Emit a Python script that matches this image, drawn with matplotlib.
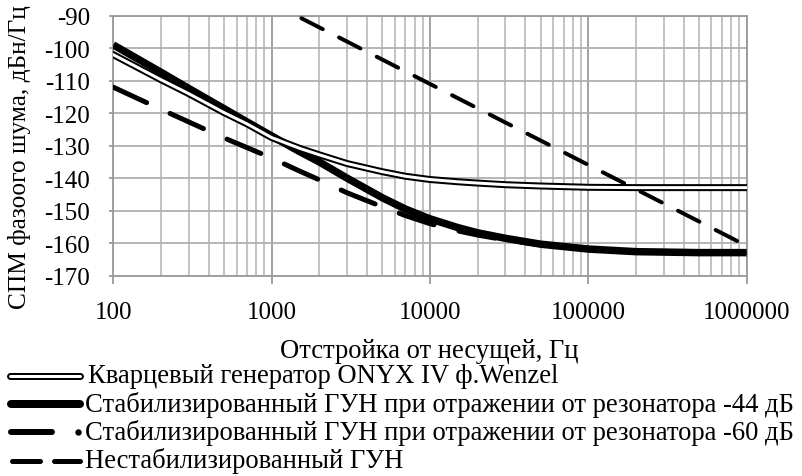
import matplotlib
matplotlib.use("Agg")
import matplotlib.pyplot as plt
from matplotlib.lines import Line2D
import numpy as np

plt.rcParams['font.family'] = ['Liberation Serif', 'DejaVu Serif']
plt.rcParams['lines.scale_dashes'] = False
plt.rcParams['axes.unicode_minus'] = False

# ---- data ----
freq = [100, 200, 300, 500, 700, 1000, 1500, 2000, 3000, 5000, 7000, 10000, 15000,
        20000, 30000, 50000, 100000, 200000, 500000, 1000000]
crystal = [-102.0, -109.7, -114.0, -119.8, -123.3, -127.5, -130.8, -132.8, -135.5, -138.0,
           -139.4, -140.4, -141.1, -141.5, -142.0, -142.4, -142.8, -142.9, -142.9, -142.9]
vco_44 = [-99.0, -107.4, -112.4, -118.6, -122.7, -127.0, -131.8, -135.0, -140.0, -146.0,
          -149.5, -152.5, -155.2, -156.8, -158.5, -160.3, -161.8, -162.6, -162.9, -162.9]
vco_60 = [-112.0, -118.8, -122.7, -127.6, -130.6, -133.8, -137.8, -140.5, -144.5, -148.8,
          -151.5, -154.0, -156.2, -157.5, -159.0, -160.5, -161.8, -162.6, -162.9, -162.9]
freq_unstab = [100, 1000, 10000, 100000, 1000000]
unstab = [-61.2, -86.1, -111.0, -135.9, -160.8]

yticks = [-90, -100, -110, -120, -130, -140, -150, -160, -170]
xticks = [100, 1000, 10000, 100000, 1000000]
xtick_labels = ['100', '1000', '10000', '100000', '1000000']

labels = ['Кварцевый генератор ONYX IV ф.Wenzel',
          'Стабилизированный ГУН при отражении от резонатора -44 дБ',
          'Стабилизированный ГУН при отражении от резонатора -60 дБ',
          'Нестабилизированный ГУН']
xlabel = 'Отстройка от несущей, Гц'
ylabel = 'СПМ фазоого шума, дБн/Гц'

W, H = 802, 477
fig = plt.figure(figsize=(W / 100, H / 100), dpi=100)
L, R, T, B = 113.3, 746.6, 16.7, 276.7
ax = fig.add_axes([L / W, 1 - B / H, (R - L) / W, (B - T) / H])

FS = 18
FS_TXT = 19.2
px = 0.72  # points per pixel

# curves
ax.plot(freq, vco_60, color='black', lw=5 * px, dashes=(36.7 * px, 25.8 * px),
        dash_capstyle='round', solid_capstyle='round', zorder=3)
ax.plot(freq, vco_44, color='black', lw=7.5 * px, solid_capstyle='butt', zorder=4)
ax.plot(freq, crystal, color='black', lw=7 * px, zorder=5)
ax.plot(freq, crystal, color='white', lw=3 * px, zorder=6)
ax.plot(freq_unstab, unstab, color='black', lw=4 * px, dashes=(24 * px, 18.3 * px),
        dash_capstyle='round', zorder=7)

ax.set_xscale('log')
ax.set_xlim(100, 1000000)
ax.set_ylim(-170, -90)
ax.set_yticks(yticks)
ax.set_xticks(xticks)
ax.set_xticklabels(xtick_labels)
ax.xaxis.set_minor_formatter(matplotlib.ticker.NullFormatter())

ax.grid(True, which='major', axis='x', color='#9a9a9a', lw=1.3)
ax.grid(True, which='minor', axis='x', color='#bdbdbd', lw=1.3)
ax.grid(True, which='major', axis='y', color='#b0b0b0', lw=1.3)
ax.set_axisbelow(True)
for s in ax.spines.values():
    s.set_color('#9a9a9a')
    s.set_linewidth(1.3)

ax.tick_params(axis='x', which='major', length=8 * px, color='#9a9a9a', width=1.3,
               labelsize=FS, pad=12.5)
ax.tick_params(axis='x', which='minor', length=0)
ax.tick_params(axis='y', which='major', length=4 * px, color='#9a9a9a', width=1.3,
               labelsize=FS, pad=14)

ax.set_xlabel(xlabel, fontsize=FS_TXT)
ax.xaxis.set_label_coords((429 - L) / (R - L), (B - 351) / (B - T))
ax.xaxis.label.set_va('center')
ax.set_ylabel(ylabel, fontsize=18.3)
ax.yaxis.set_label_coords((20 - L) / (R - L), (B - 157) / (B - T))
ax.yaxis.label.set_va('center')

# ---- legend (drawn in figure pixel coordinates) ----
def fx(x):
    return x / W

def fy(y):
    return 1 - y / H

rows_y = [377, 405, 433, 461.5]
text_x = [88, 85, 85, 85]

# row 1: double line
fig.add_artist(Line2D([fx(10), fx(80)], [fy(rows_y[0])] * 2, color='black', lw=7 * px,
                      solid_capstyle='round'))
fig.add_artist(Line2D([fx(10), fx(80)], [fy(rows_y[0])] * 2, color='white', lw=3 * px,
                      solid_capstyle='round'))
# row 2: thick line
fig.add_artist(Line2D([fx(11), fx(80)], [fy(rows_y[1])] * 2, color='black', lw=8 * px,
                      solid_capstyle='round'))
# row 3: long dash + dot
fig.add_artist(Line2D([fx(11), fx(52)], [fy(rows_y[2])] * 2, color='black', lw=6 * px,
                      solid_capstyle='round'))
fig.add_artist(Line2D([fx(77.5)], [fy(rows_y[2])], color='black', marker='o',
                      markersize=5 * px, lw=0))
# row 4: two dashes
fig.add_artist(Line2D([fx(12), fx(40)], [fy(rows_y[3])] * 2, color='black', lw=5 * px,
                      solid_capstyle='round'))
fig.add_artist(Line2D([fx(54), fx(80)], [fy(rows_y[3])] * 2, color='black', lw=5 * px,
                      solid_capstyle='round'))

for yy, xx, lab in zip(rows_y, text_x, labels):
    fig.text(fx(xx), fy(yy), lab, fontsize=FS_TXT, ha='left', va='center')

fig.savefig('out.png', dpi=100)
